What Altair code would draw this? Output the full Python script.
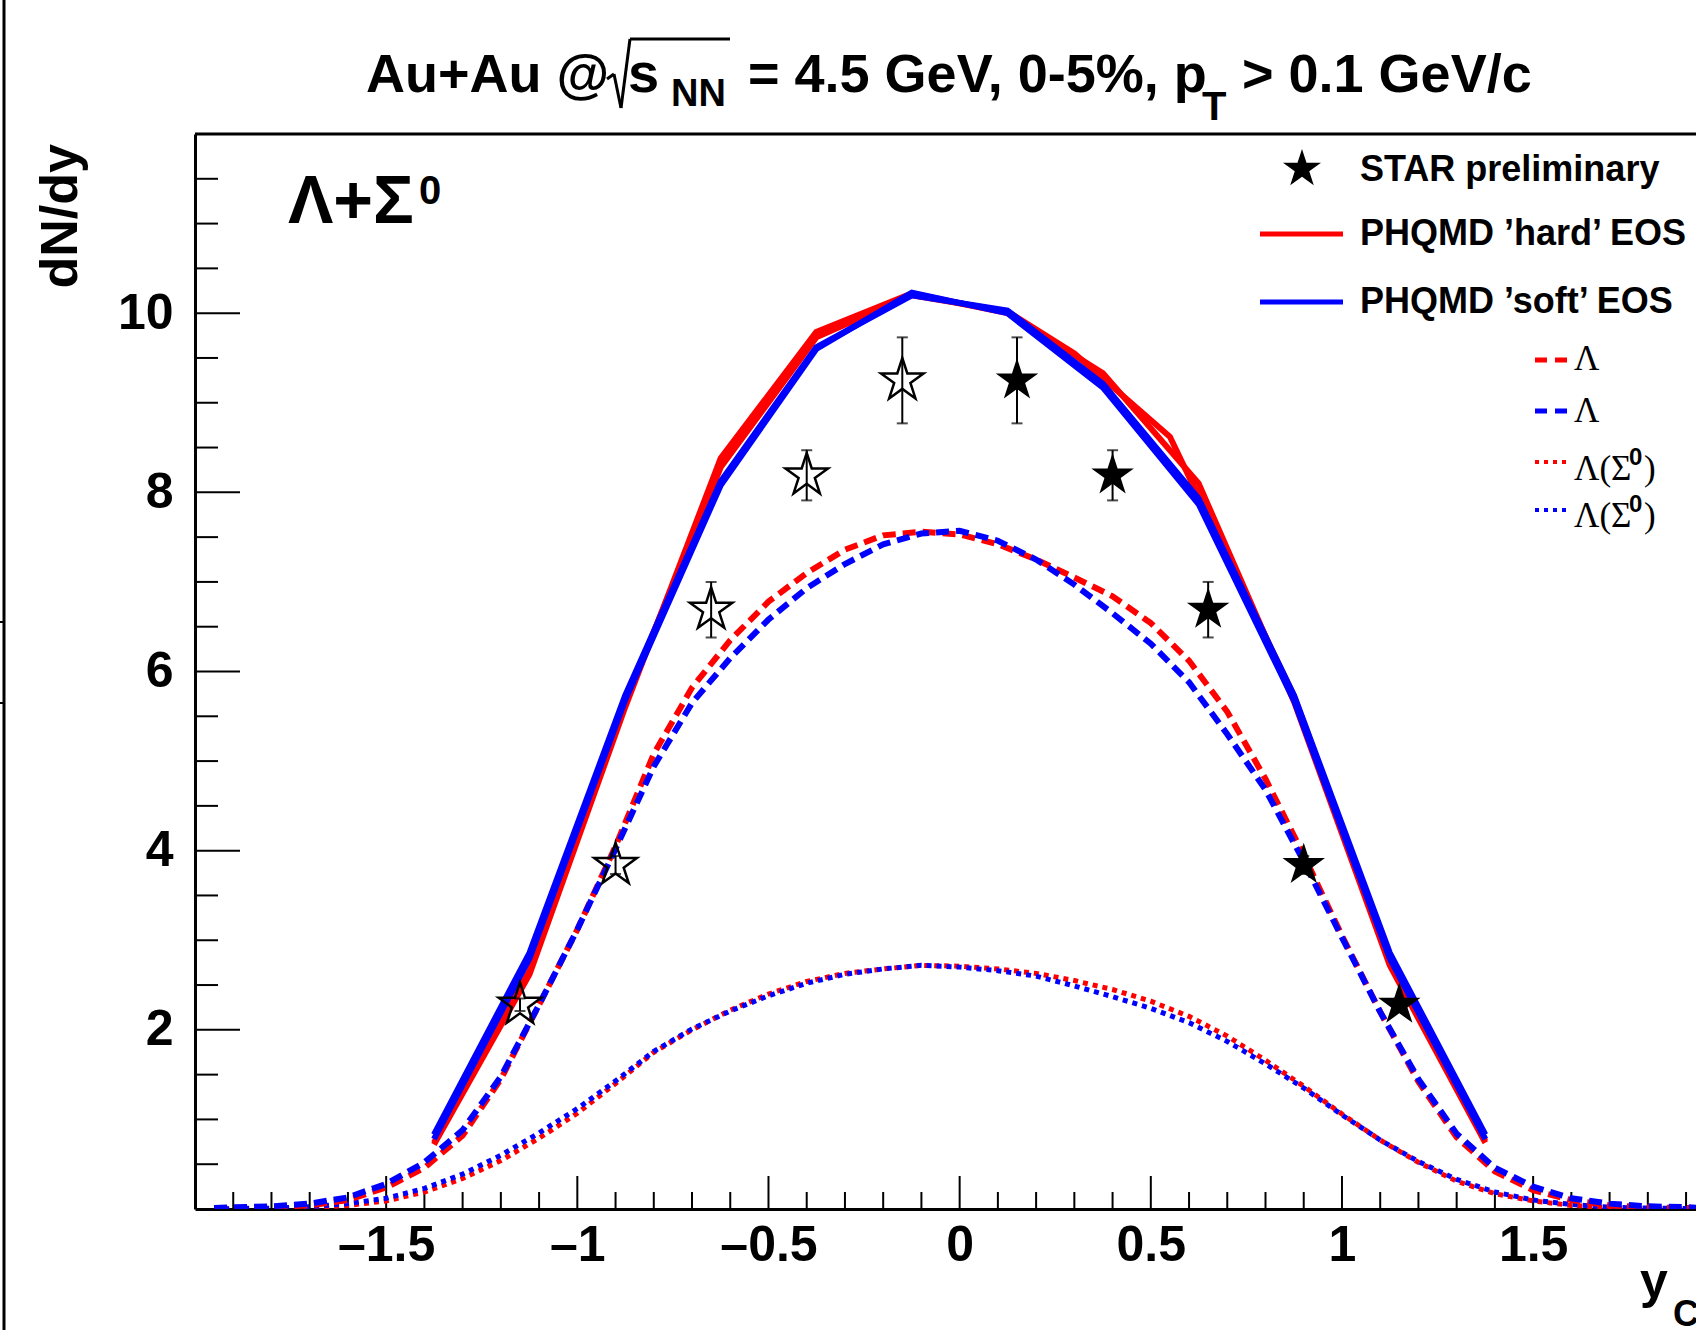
import altair as alt
import pandas as pd

# ---------------- data ----------------
# PHQMD Lambda+Sigma0 (solid), two close curves per EOS
node_x = [-1.375, -1.125, -0.875, -0.625, -0.375, -0.125, 0.125, 0.375, 0.625, 0.875, 1.125, 1.375]
hard_a = [0.72, 2.62, 5.60, 8.38, 9.79, 10.22, 10.00, 9.33, 8.10, 5.66, 2.72, 0.74]
hard_b_x = [-1.375, -1.125, -0.875, -0.625, -0.375, -0.125, 0.125, 0.30, 0.55, 0.875, 1.125, 1.375]
hard_b = [0.74, 2.66, 5.66, 8.28, 9.73, 10.20, 10.02, 9.55, 8.62, 5.72, 2.78, 0.76]
soft_a = [0.78, 2.80, 5.68, 8.08, 9.60, 10.23, 10.00, 9.17, 7.87, 5.67, 2.80, 0.78]
soft_b = [0.83, 2.86, 5.73, 8.12, 9.62, 10.20, 10.03, 9.21, 7.93, 5.73, 2.86, 0.83]

# Lambda (dashed) and Lambda(Sigma0) (dotted)
fine_x = [-1.95, -1.9, -1.8, -1.7, -1.6, -1.5, -1.4, -1.3, -1.2, -1.1, -1.0, -0.9, -0.8, -0.7,
          -0.6, -0.5, -0.4, -0.3, -0.2, -0.1, 0.0, 0.1, 0.2, 0.3, 0.4, 0.5, 0.6, 0.7, 0.8, 0.9,
          1.0, 1.1, 1.2, 1.3, 1.4, 1.5, 1.6, 1.7, 1.8, 1.9, 1.95]
lam_hard = [0.01, 0.01, 0.02, 0.04, 0.10, 0.24, 0.46, 0.82, 1.45, 2.28, 3.12, 4.05, 5.08, 5.82,
            6.35, 6.78, 7.10, 7.36, 7.52, 7.56, 7.53, 7.42, 7.25, 7.05, 6.84, 6.54, 6.12, 5.55,
            4.80, 3.95, 3.05, 2.20, 1.42, 0.80, 0.42, 0.21, 0.10, 0.04, 0.02, 0.01, 0.01]
lam_soft = [0.01, 0.02, 0.03, 0.06, 0.13, 0.28, 0.52, 0.88, 1.48, 2.28, 3.12, 4.02, 4.94, 5.65,
            6.15, 6.58, 6.93, 7.20, 7.42, 7.54, 7.57, 7.46, 7.25, 6.97, 6.65, 6.31, 5.88, 5.30,
            4.68, 3.88, 3.03, 2.20, 1.45, 0.84, 0.46, 0.25, 0.12, 0.06, 0.03, 0.02, 0.01]
sig_hard = [0.0, 0.0, 0.005, 0.015, 0.04, 0.09, 0.19, 0.34, 0.54, 0.79, 1.07, 1.40, 1.75, 2.00,
            2.22, 2.40, 2.54, 2.63, 2.68, 2.72, 2.71, 2.68, 2.63, 2.55, 2.45, 2.32, 2.15, 1.93,
            1.66, 1.37, 1.06, 0.77, 0.52, 0.31, 0.17, 0.09, 0.04, 0.015, 0.005, 0.0, 0.0]
sig_soft = [0.0, 0.005, 0.01, 0.025, 0.06, 0.12, 0.23, 0.39, 0.60, 0.85, 1.12, 1.43, 1.76, 2.01,
            2.21, 2.38, 2.52, 2.62, 2.68, 2.72, 2.70, 2.66, 2.60, 2.49, 2.37, 2.24, 2.08, 1.87,
            1.62, 1.35, 1.05, 0.77, 0.53, 0.33, 0.19, 0.10, 0.05, 0.02, 0.01, 0.005, 0.0]

# STAR preliminary (filled: measured, open: reflected)
star_x = [0.15, 0.40, 0.65, 0.90, 1.15]
star_y = [9.25, 8.19, 6.69, 3.84, 2.28]
star_err = [0.48, 0.28, 0.31, 0.10, 0.07]
refl_x = [-0.15, -0.40, -0.65, -0.90, -1.15]

# axis ticks
x_major = [-1.5, -1.0, -0.5, 0.0, 0.5, 1.0, 1.5]
x_minor = [-1.9, -1.8, -1.7, -1.6, -1.4, -1.3, -1.2, -1.1, -0.9, -0.8, -0.7, -0.6, -0.4, -0.3,
           -0.2, -0.1, 0.1, 0.2, 0.3, 0.4, 0.6, 0.7, 0.8, 0.9, 1.1, 1.2, 1.3, 1.4, 1.6, 1.7,
           1.8, 1.9]
y_major = [2, 4, 6, 8, 10]
y_minor = [0.5, 1.0, 1.5, 2.5, 3.0, 3.5, 4.5, 5.0, 5.5, 6.5, 7.0, 7.5, 8.5, 9.0, 9.5, 10.5,
           11.0, 11.5]

legend_main = ["STAR preliminary", "PHQMD \u2019hard\u2019 EOS", "PHQMD \u2019soft\u2019 EOS"]
title_parts = ["Au+Au @", "s", "NN", "= 4.5 GeV, 0-5%, p", "T", "> 0.1 GeV/c"]

# ---------------- layout ----------------
W, H = 1501, 1075
SANS = "Liberation Sans"
SERIF = "Liberation Serif"
RED = "#ff0000"
BLUE = "#0000ff"

STAR = ("M0,-1L0.2245,-0.309L0.951,-0.309L0.3633,0.118L0.588,0.809L0,0.382"
        "L-0.588,0.809L-0.3633,0.118L-0.951,-0.309L-0.2245,-0.309Z")

xs = alt.Scale(domain=[-2.0, 1.926], nice=False, zero=False)
ys = alt.Scale(domain=[0, 12], nice=False, zero=False)

x_axis = alt.Axis(values=x_major, title=None, grid=False, ticks=False, tickSize=0,
                  labelExpr="(datum.value < 0 ? '\u2013' : '') + toString(abs(datum.value))",
                  labelFont=SANS, labelFontWeight="bold", labelFontSize=50, labelColor="black",
                  labelPadding=11, labelFlush=False, labelOverlap=False,
                  domainColor="black", domainWidth=3)
y_axis = alt.Axis(values=y_major, title=None, grid=False, ticks=False, tickSize=0,
                  labelFont=SANS, labelFontWeight="bold", labelFontSize=50, labelColor="black",
                  labelPadding=22, labelFlush=False, labelOverlap=False,
                  domainColor="black", domainWidth=3)

one = pd.DataFrame({"a": [0]})


def X(field):
    return alt.X(field, scale=xs, axis=x_axis)


def Y(field):
    return alt.Y(field, scale=ys, axis=y_axis)


def ldf(xv, yv, name):
    return pd.DataFrame({"x": xv, "y": yv, "s": name})


def curve(df, color, width, dash=None):
    kw = dict(color=color, strokeWidth=width, clip=True)
    if dash:
        kw["strokeDash"] = dash
    return alt.Chart(df).mark_line(**kw).encode(x=X("x:Q"), y=Y("y:Q"), detail="s:N")


def text(t, x, y, size, font=SANS, weight="bold", align="left", baseline="alphabetic", angle=None):
    kw = dict(text=t, font=font, fontSize=size, fontWeight=weight, align=align,
              baseline=baseline, color="black")
    if angle is not None:
        kw["angle"] = angle
    return alt.Chart(one).mark_text(**kw).encode(x=alt.value(x), y=alt.value(y))


def seg(x1, y1, x2, y2, color="black", width=3, dash=None):
    kw = dict(color=color, strokeWidth=width)
    if dash:
        kw["strokeDash"] = dash
    return alt.Chart(one).mark_rule(**kw).encode(
        x=alt.value(x1), y=alt.value(y1), x2=alt.value(x2), y2=alt.value(y2))


layers = []

# inner ticks (also carry the axes)
layers.append(alt.Chart(pd.DataFrame({"v": x_major})).mark_rule(color="black", strokeWidth=2).encode(
    x=X("v:Q"), y=alt.value(H), y2=alt.value(H - 33)))
layers.append(alt.Chart(pd.DataFrame({"v": x_minor})).mark_rule(color="black", strokeWidth=2).encode(
    x=X("v:Q"), y=alt.value(H), y2=alt.value(H - 17)))
layers.append(alt.Chart(pd.DataFrame({"v": y_major})).mark_rule(color="black", strokeWidth=2).encode(
    y=Y("v:Q"), x=alt.value(0), x2=alt.value(45)))
layers.append(alt.Chart(pd.DataFrame({"v": y_minor})).mark_rule(color="black", strokeWidth=2).encode(
    y=Y("v:Q"), x=alt.value(0), x2=alt.value(23)))

# frame top line and outer left line
layers.append(seg(0, 0, W + 5, 0, width=3))
layers.append(seg(-191, -140, -191, H + 130, width=3))
layers.append(seg(-196, 488, -191, 488, width=2))
layers.append(seg(-196, 569, -191, 569, width=2))

# curves
layers.append(curve(ldf(fine_x, sig_hard, "sh"), RED, 5, [5, 5]))
layers.append(curve(ldf(fine_x, sig_soft, "ss"), BLUE, 5, [5, 5]))
layers.append(curve(ldf(fine_x, lam_hard, "lh"), RED, 6, [13, 7]))
layers.append(curve(ldf(fine_x, lam_soft, "ls"), BLUE, 6, [13, 7]))
layers.append(curve(pd.concat([ldf(node_x, hard_a, "ha"), ldf(hard_b_x, hard_b, "hb")]), RED, 6))
layers.append(curve(pd.concat([ldf(node_x, soft_a, "sa"), ldf(node_x, soft_b, "sb")]), BLUE, 6))

# STAR points with error bars
pts = pd.DataFrame({
    "x": star_x + refl_x,
    "y": star_y + star_y,
    "lo": [v - e for v, e in zip(star_y, star_err)] * 2,
    "hi": [v + e for v, e in zip(star_y, star_err)] * 2,
    "kind": ["meas"] * 5 + ["refl"] * 5,
})
layers.append(alt.Chart(pts).mark_rule(color="black", strokeWidth=2).encode(
    x=X("x:Q"), y=Y("lo:Q"), y2="hi:Q"))
layers.append(alt.Chart(pts).mark_tick(color="black", thickness=2, size=11, orient="horizontal").encode(
    x=X("x:Q"), y=Y("lo:Q")))
layers.append(alt.Chart(pts).mark_tick(color="black", thickness=2, size=11, orient="horizontal").encode(
    x=X("x:Q"), y=Y("hi:Q")))
layers.append(alt.Chart(pts[pts.kind == "refl"]).mark_point(
    shape=STAR, size=2000, filled=False, stroke="black", strokeWidth=2.5, opacity=1).encode(
    x=X("x:Q"), y=Y("y:Q")))
layers.append(alt.Chart(pts[pts.kind == "meas"]).mark_point(
    shape=STAR, size=2000, filled=True, fill="black", strokeWidth=0, opacity=1).encode(
    x=X("x:Q"), y=Y("y:Q")))

# legend
layers.append(alt.Chart(one).mark_point(shape=STAR, size=1600, filled=True, fill="black",
                                        strokeWidth=0, opacity=1).encode(
    x=alt.value(1107), y=alt.value(35)))
layers.append(text(legend_main[0], 1165, 36, 36, baseline="middle"))
layers.append(seg(1065, 100, 1148, 100, color=RED, width=5))
layers.append(text(legend_main[1], 1165, 100, 36, baseline="middle"))
layers.append(seg(1065, 168, 1148, 168, color=BLUE, width=5))
layers.append(text(legend_main[2], 1165, 168, 36, baseline="middle"))
layers.append(seg(1340, 226, 1372, 226, color=RED, width=5, dash=[12, 8]))
layers.append(text("\u039b", 1379, 236, 35, font=SERIF, weight="normal"))
layers.append(seg(1340, 277, 1372, 277, color=BLUE, width=5, dash=[12, 8]))
layers.append(text("\u039b", 1379, 288, 35, font=SERIF, weight="normal"))
layers.append(seg(1340, 328, 1374, 328, color=RED, width=4, dash=[4, 5]))
layers.append(text("\u039b(\u03a3", 1379, 346, 35, font=SERIF, weight="normal"))
layers.append(text("0", 1434, 331, 24, weight="bold"))
layers.append(text(")", 1449, 346, 35, font=SERIF, weight="normal"))
layers.append(seg(1340, 376, 1374, 376, color=BLUE, width=4, dash=[4, 5]))
layers.append(text("\u039b(\u03a3", 1379, 393, 35, font=SERIF, weight="normal"))
layers.append(text("0", 1434, 378, 24, weight="bold"))
layers.append(text(")", 1449, 393, 35, font=SERIF, weight="normal"))

# Lambda + Sigma0 label
layers.append(text("\u039b+\u03a3", 93, 89, 68))
layers.append(text("0", 224, 70, 40))

# title
layers.append(text(title_parts[0], 171, -42, 54))
layers.append(seg(412, -55, 419, -60, width=3))
layers.append(seg(419, -60, 426, -26, width=3))
layers.append(seg(426, -26, 435, -95, width=3))
layers.append(seg(435, -95, 535, -95, width=3))
layers.append(text(title_parts[1], 433, -42, 56))
layers.append(text(title_parts[2], 476, -28, 38))
layers.append(text(title_parts[3], 553, -42, 54))
layers.append(text(title_parts[4], 1007, -14, 40))
layers.append(text(title_parts[5], 1047, -42, 54))

# axis titles
layers.append(text("dN/dy", -118, 10, 52, align="right", angle=270))
layers.append(text("y", 1445, 1164, 50))
layers.append(text("CM", 1478, 1192, 36))

chart = alt.layer(*layers).properties(
    width=W, height=H,
    padding={"left": 195, "top": 134, "right": 0, "bottom": 121},
    autosize=alt.AutoSizeParams(type="none"),
    background="white",
).configure_view(stroke=None)

chart.save("out.html", embed_options={"renderer": "svg", "actions": False})
